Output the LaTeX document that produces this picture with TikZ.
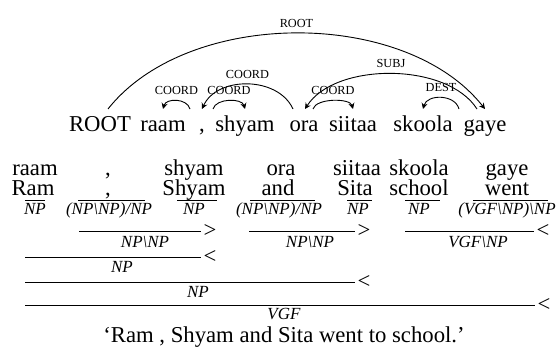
\documentclass[tikz,border=0pt]{standalone}
\usepackage{fontspec}
\setmainfont{Liberation Serif}
\usetikzlibrary{arrows.meta}
\begin{document}
\begin{tikzpicture}[x=0.5pt,y=-0.5pt,
  wd/.style={anchor=base, inner sep=0pt, font=\fontsize{11.35}{13}\selectfont},
  dw/.style={wd, text height=8pt, text depth=2.5pt, outer ysep=3.5pt},
  cat/.style={anchor=base, inner sep=0pt, text height=6pt, text depth=1pt, font=\fontsize{8.5}{10}\selectfont\itshape},
  sym/.style={anchor=west, inner sep=1pt, font=\fontsize{11.35}{13}\selectfont},
  lab/.style={anchor=base, yshift=3pt, inner sep=0pt, font=\fontsize{6.15}{7}\selectfont},
  arc/.style={-{Stealth[length=3pt,width=3pt]}, line width=0.45pt},
  dl/.style={line width=0.5pt}]
\useasboundingbox (0,0) rectangle (560,347);
% dependency sentence
\node[dw] (w0) at (100,132) {ROOT};
\node[dw] (w1) at (163,132) {raam};
\node[dw] (w2) at (202,132) {,};
\node[dw] (w3) at (245,132) {shyam};
\node[dw] (w4) at (304,132) {ora};
\node[dw] (w5) at (353,132) {siitaa};
\node[dw] (w6) at (423,132) {skoola};
\node[dw] (w7) at (485,132) {gaye};
% arcs
\draw[arc] ([xshift=4pt]w0.north) .. controls +(80,-101) and +(-80,-101) .. (w7.north) node[midway, lab] {ROOT};
\draw[arc] ([xshift=-6pt]w2.north) .. controls +(-3,-11) and +(3,-11) .. (w1.north) node[midway, lab] {COORD};
\draw[arc] ([xshift=5.5pt]w2.north) .. controls +(3,-11) and +(-3,-11) .. (w3.north) node[midway, lab] {COORD};
\draw[arc] ([xshift=-5.5pt]w4.north) .. controls +(-15,-33) and +(15,-33) .. (w2.north) node[midway, lab] {COORD};
\draw[arc] ([xshift=4.5pt]w4.north) .. controls +(3,-11) and +(-3,-11) .. (w5.north) node[midway, lab] {COORD};
\draw[arc] ([xshift=-4pt]w7.north) .. controls +(-30,-47) and +(30,-47) .. ([xshift=0.5pt]w4.north) node[midway, lab] {SUBJ};
\draw[arc] ([xshift=-13pt]w7.north) .. controls +(-4,-15) and +(4,-15) .. (w6.north) node[midway, lab] {DEST};
% derivation words
\node[wd] (a1) at (35,175) {raam};
\node[wd] (a2) at (108,175) {,};
\node[wd] (a3) at (194,175) {shyam};
\node[wd] (a4) at (281,175) {ora};
\node[wd] (a5) at (357,175) {siitaa};
\node[wd] (a6) at (419,175) {skoola};
\node[wd] (a7) at (507,175) {gaye};
\node[wd] (b1) at (33,195) {Ram};
\node[wd] (b2) at (108,195) {,};
\node[wd] (b3) at (194,195) {Shyam};
\node[wd] (b4) at (278,195) {and};
\node[wd] (b5) at (355,195) {Sita};
\node[wd] (b6) at (419,195) {school};
\node[wd] (b7) at (507,195) {went};
% lexical lines
\draw[dl] (25,200) -- (45,200);
\draw[dl] (78,200) -- (145,200);
\draw[dl] (177,200) -- (217,200);
\draw[dl] (250,200) -- (315,200);
\draw[dl] (347,200) -- (372,200);
\draw[dl] (405,200) -- (440,200);
\draw[dl] (473,200) -- (548,200);
% categories
\node[cat] (c1) at (35,214) {NP};
\node[cat] (c2) at (109,214) {(NP\textbackslash NP)/NP};
\node[cat] (c3) at (194,214) {NP};
\node[cat] (c4) at (279,214) {(NP\textbackslash NP)/NP};
\node[cat] (c5) at (358,214) {NP};
\node[cat] (c6) at (419,214) {NP};
\node[cat] (c7) at (507,214) {(VGF\textbackslash NP)\textbackslash NP};
% combinations level 1
\draw[dl] (79,231) -- (201,231) node[sym] {>};
\node[cat] (d1) at (145,247) {NP\textbackslash NP};
\draw[dl] (249,231) -- (355,231) node[sym] {>};
\node[cat] (d2) at (310,247) {NP\textbackslash NP};
\draw[dl] (405,231) -- (534,231) node[sym] {<};
\node[cat] (d3) at (478,247) {VGF\textbackslash NP};
% level 2
\draw[dl] (25,257) -- (201,257) node[sym] {<};
\node[cat] (e1) at (122,272) {NP};
% level 3
\draw[dl] (25,282) -- (355,282) node[sym] {<};
\node[cat] (f1) at (198,297) {NP};
% level 4
\draw[dl] (25,305) -- (535,305) node[sym] {<};
\node[cat] (g1) at (284,319) {VGF};
% translation
\node[wd, text height=7.6pt] (tr) at (284,342) {‘Ram , Shyam and Sita went to school.’};
\end{tikzpicture}
\end{document}
